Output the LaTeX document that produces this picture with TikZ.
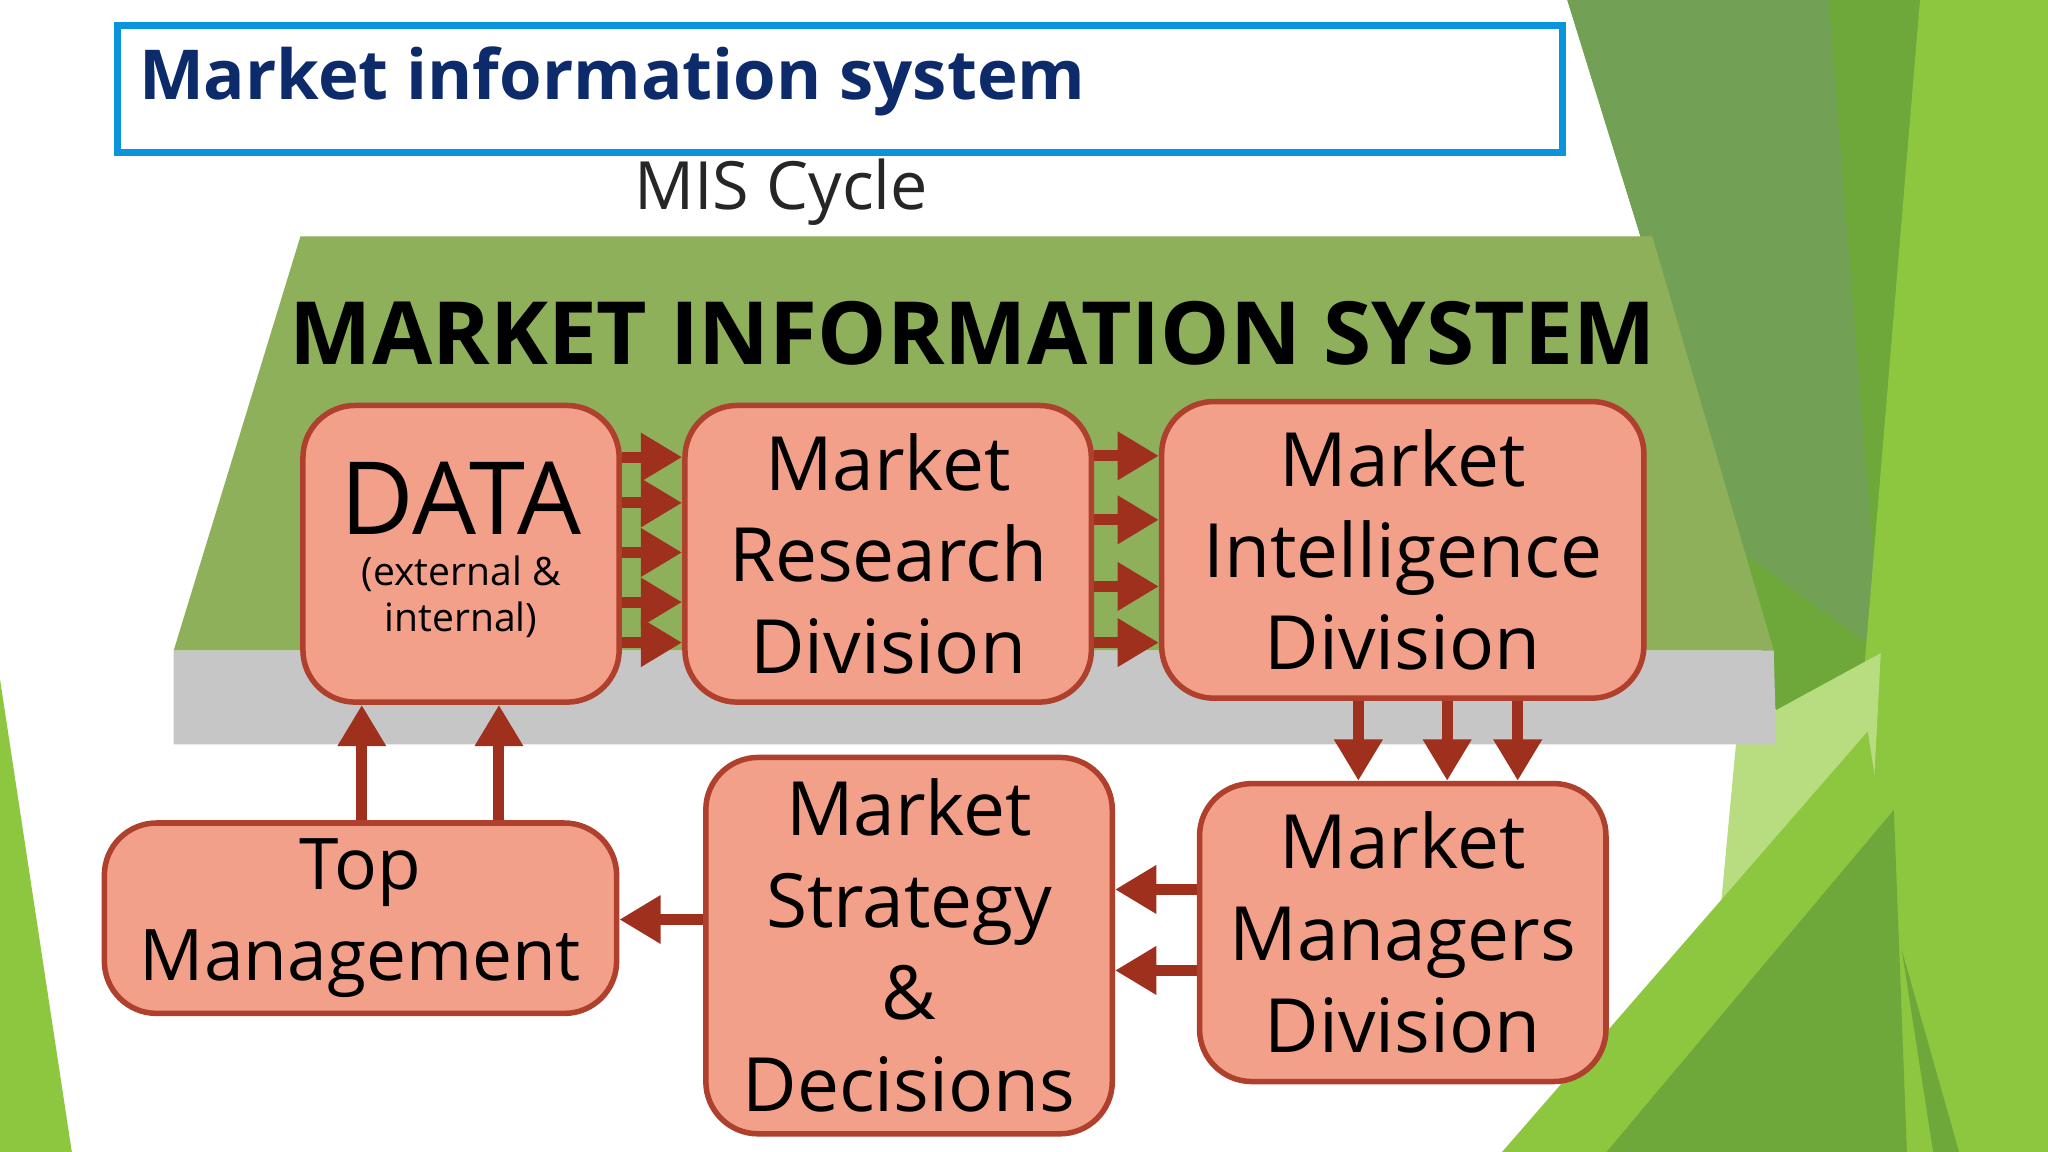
\documentclass[tikz,border=0pt]{standalone}
\usepackage{fontspec}
\setmainfont{Open Sans}
\usetikzlibrary{arrows.meta}
\definecolor{salmon}{HTML}{F2A08A}
\definecolor{bord}{HTML}{B0402E}
\definecolor{arr}{HTML}{A0301E}
\definecolor{navy}{HTML}{0D2A6B}
\definecolor{trap}{HTML}{8FB05A}
\definecolor{g1}{HTML}{8DC63F}
\definecolor{g2}{HTML}{6FA83A}
\definecolor{g3}{HTML}{4F8A2A}
\definecolor{g4}{HTML}{B8DD80}
\begin{document}
\begin{tikzpicture}[x=0.01cm,y=-0.01cm,
 box/.style={draw=bord,line width=1.2pt,fill=salmon,rounded corners=0.4cm,align=center,font=\fontsize{16.3}{20}\selectfont},
 ar/.style={draw=arr,line width=2.4pt,-{Triangle[length=9pt,width=10pt]}}]
\useasboundingbox (0,0) rectangle (1568,882);
\fill[white] (0,0) rectangle (1568,882);
% right decoration
\fill[g2] (1200,0) -- (1568,0) -- (1568,882) -- (1440,882) -- (1330,420) -- cycle;
\fill[g3!80] (1200,0) -- (1400,0) -- (1440,500) -- (1330,420) -- cycle;
\fill[g1] (1470,0) -- (1568,0) -- (1568,882) -- (1500,882) -- (1420,600) -- cycle;
\fill[g4] (1330,560) -- (1440,500) -- (1420,882) -- (1300,882) -- cycle;
\fill[g1] (1150,882) -- (1430,560) -- (1480,882) -- cycle;
\fill[g2] (1230,882) -- (1450,620) -- (1460,882) -- cycle;
\fill[g1] (0,520) -- (55,882) -- (0,882) -- cycle;
% title
\node[draw=cyan!80!blue,line width=1.5pt,minimum width=11.06cm,minimum height=0.97cm,anchor=north west,inner sep=0] (tb) at (87,17) {};
\node[anchor=west,text=navy,font=\bfseries\fontsize{15}{18}\selectfont] (title) at (94,62) {Market information system};
\node[text=black!85,font=\fontsize{14.5}{16}\selectfont] (cyc) at (598,147) {MIS Cycle};
% platform
\fill[gray!45] (133,498) -- (1358,498) -- (1360,570) -- (133,570) -- cycle;
\fill[trap] (230,181) -- (1265,181) -- (1358,498) -- (133,498) -- cycle;
\node[font=\bfseries\fontsize{19}{22}\selectfont] (mis) at (745,255) {MARKET INFORMATION SYSTEM};
% boxes
\node[box,minimum width=2.42cm,minimum height=2.27cm] (data) at (353,424) {{\fontsize{22}{22}\selectfont DATA}\\[-4pt]{\fontsize{8.5}{10}\selectfont\begin{tabular}{@{}c@{}}(external \&\\ internal)\end{tabular}}};
\node[box,minimum width=3.11cm,minimum height=2.27cm] (mr) at (680,424) {Market\\Research\\Division};
\node[box,minimum width=3.69cm,minimum height=2.27cm] (mi) at (1074,421) {Market\\Intelligence\\Division};
\node[box,minimum width=3.11cm,minimum height=2.28cm] (mm) at (1074,714) {Market\\Managers\\Division};
\node[box,minimum width=3.11cm,minimum height=2.88cm] (ms) at (696,724) {Market\\Strategy\\\&\\Decisions};
\node[box,minimum width=3.92cm,minimum height=1.41cm,font=\fontsize{15.5}{20}\selectfont] (top) at (276,703) {Top\\Management};
% arrows
\foreach \y in {350,385,423,461,492} \draw[ar] (data.east|-0,\y) -- (mr.west|-0,\y);
\foreach \y in {349,398,449,492} \draw[ar] (mr.east|-0,\y) -- (mi.west|-0,\y);
\foreach \x in {1040,1108,1162} \draw[ar] (mi.south-|\x,0) -- (mm.north-|\x,0);
\foreach \y in {681,743} \draw[ar] (mm.west|-0,\y) -- (ms.east|-0,\y);
\draw[ar] (ms.west|-0,704) -- (top.east|-0,704);
\foreach \x in {277,382} \draw[ar] (top.north-|\x,0) -- (data.south-|\x,0);
\end{tikzpicture}
\end{document}
